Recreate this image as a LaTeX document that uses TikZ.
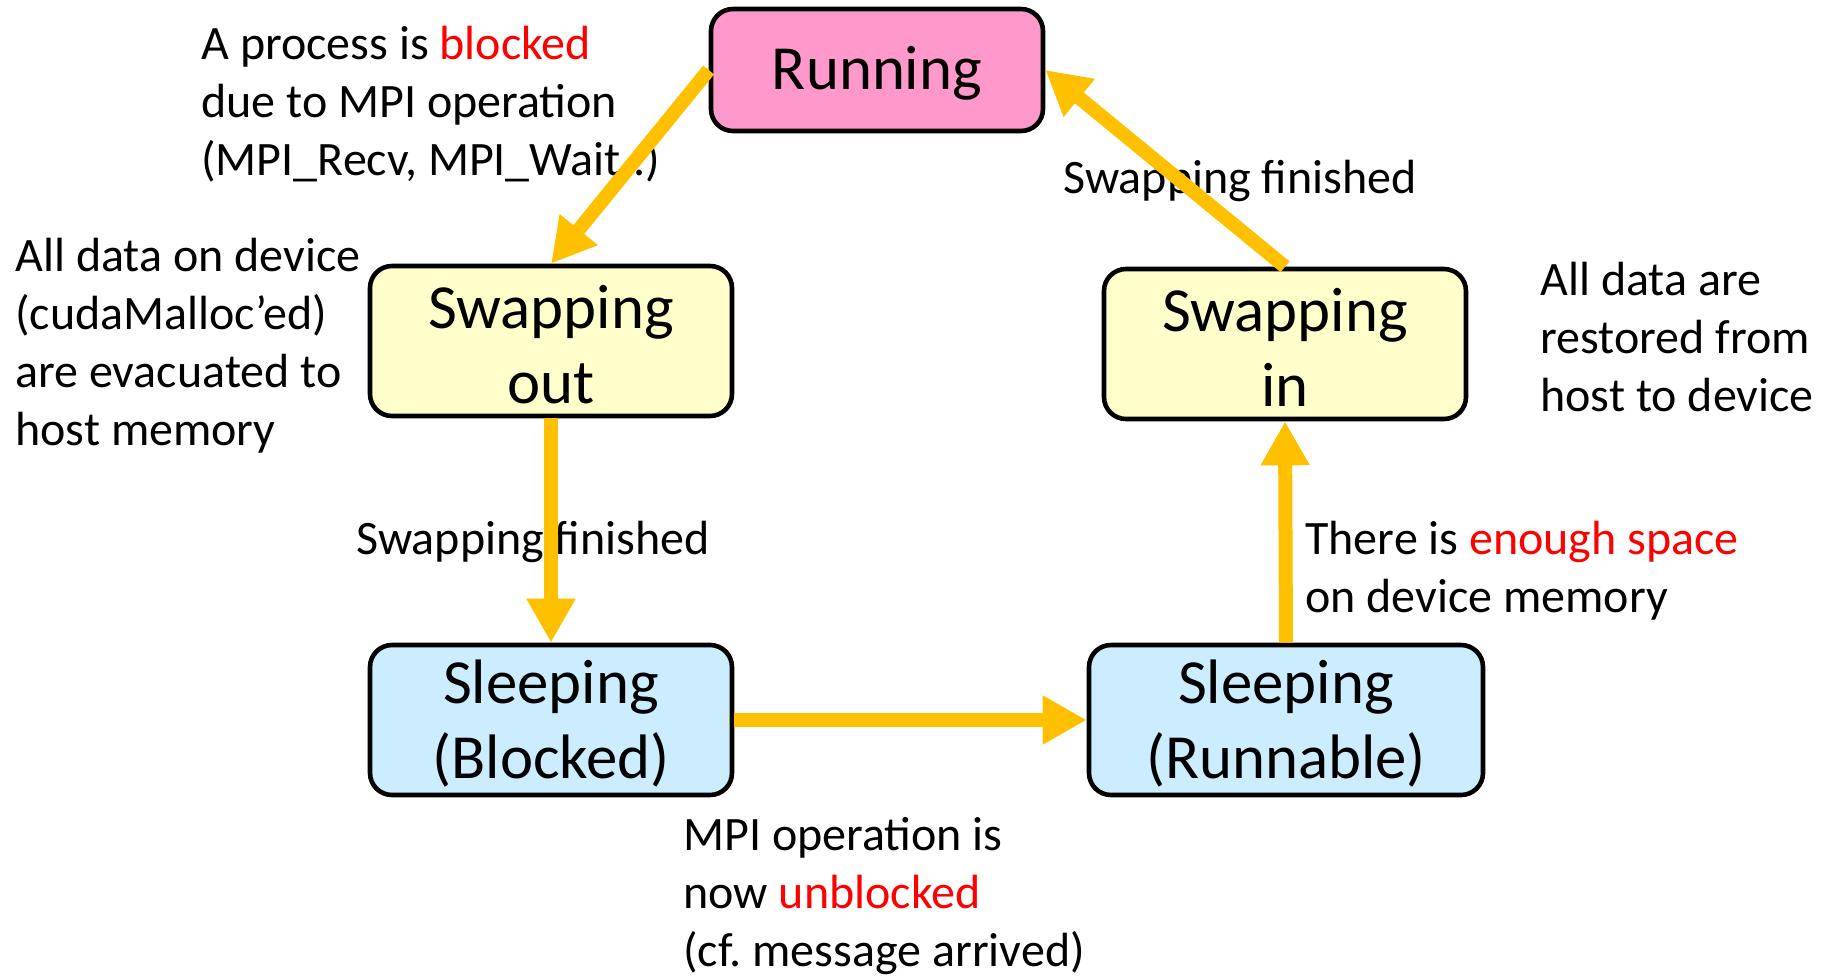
\documentclass[tikz,border=0pt]{standalone}
\usepackage{fontspec}
\setmainfont{Carlito}
\usetikzlibrary{arrows.meta}
\definecolor{flowgold}{HTML}{FFC000}
\definecolor{runpink}{HTML}{FF99CC}
\definecolor{swapyellow}{HTML}{FFFFCC}
\definecolor{sleepblue}{HTML}{CCECFF}
\definecolor{alertred}{HTML}{FF0000}
% first line of a state label, given a little extra head room so the text sits lower
\newcommand\firstrow[1]{\setbox0\hbox{#1}\rule{0pt}{\dimexpr\ht0+3.4pt\relax}#1}
\frenchspacing
\begin{document}
\begin{tikzpicture}[x=0.5pt,y=-0.5pt,
  state/.style={draw=black, line width=2.3pt, rounded corners=11pt, align=center,
    inner sep=0pt, minimum height=75pt,
    font=\fontsize{31.4}{37.7}\selectfont},
  note/.style={anchor=north west, align=left, inner sep=0pt,
    font=\fontsize{24}{29}\selectfont},
  flow/.style={draw=flowgold, line width=7pt, -{Triangle[width=23pt,length=22pt]}}]
\useasboundingbox (0,0) rectangle (1822,976);

% explanatory notes
\node[note] (n1) at (201,18) {\strut A process is \textcolor{alertred}{blocked}\\
  \strut due to MPI operation\\ \strut (MPI\_Recv, MPI\_Wait..)};
\node[note] (n2) at (15,230) {\strut All data on device\\ \strut (cudaMalloc’ed)\\
  \strut are evacuated to\\ \strut host memory};
\node[note] (n3) at (356,513) {\strut Swapping finished};
\node[note] (n4) at (1063,152) {\strut Swapping finished};
\node[note] (n5) at (1540,254) {\strut All data are\\ \strut restored from\\ \strut host to device};
\node[note] (n6) at (1305,513) {\strut There is \textcolor{alertred}{enough space}\\ \strut on device memory};
\node[note] (n7) at (683,809) {\strut MPI operation is\\ \strut now \textcolor{alertred}{unblocked}\\
  \strut (cf. message arrived)};

% process states
\node[state, fill=runpink, minimum width=166pt, minimum height=61pt] (run) at (877,70) {\firstrow{Running}};
\node[state, fill=swapyellow, minimum width=181pt] (sout) at (551,341) {\firstrow{Swapping}\\out};
\node[state, fill=swapyellow, minimum width=181pt] (sin) at (1285,344) {\firstrow{Swapping}\\in};
\node[state, fill=sleepblue, minimum width=181pt] (sblk) at (551,720) {\firstrow{Sleeping}\\(Blocked)};
\node[state, fill=sleepblue, minimum width=197pt] (srun) at (1286,720) {\firstrow{Sleeping}\\(Runnable)};

% transitions
\draw[flow] (run.west) -- (sout.north);
\draw[flow] (sout.south) -- (sblk.north);
\draw[flow] (sblk.east) -- (srun.west);
\draw[flow] (srun.north) -- (sin.south);
\draw[flow] (sin.north) -- (run.east);
\end{tikzpicture}
\end{document}
